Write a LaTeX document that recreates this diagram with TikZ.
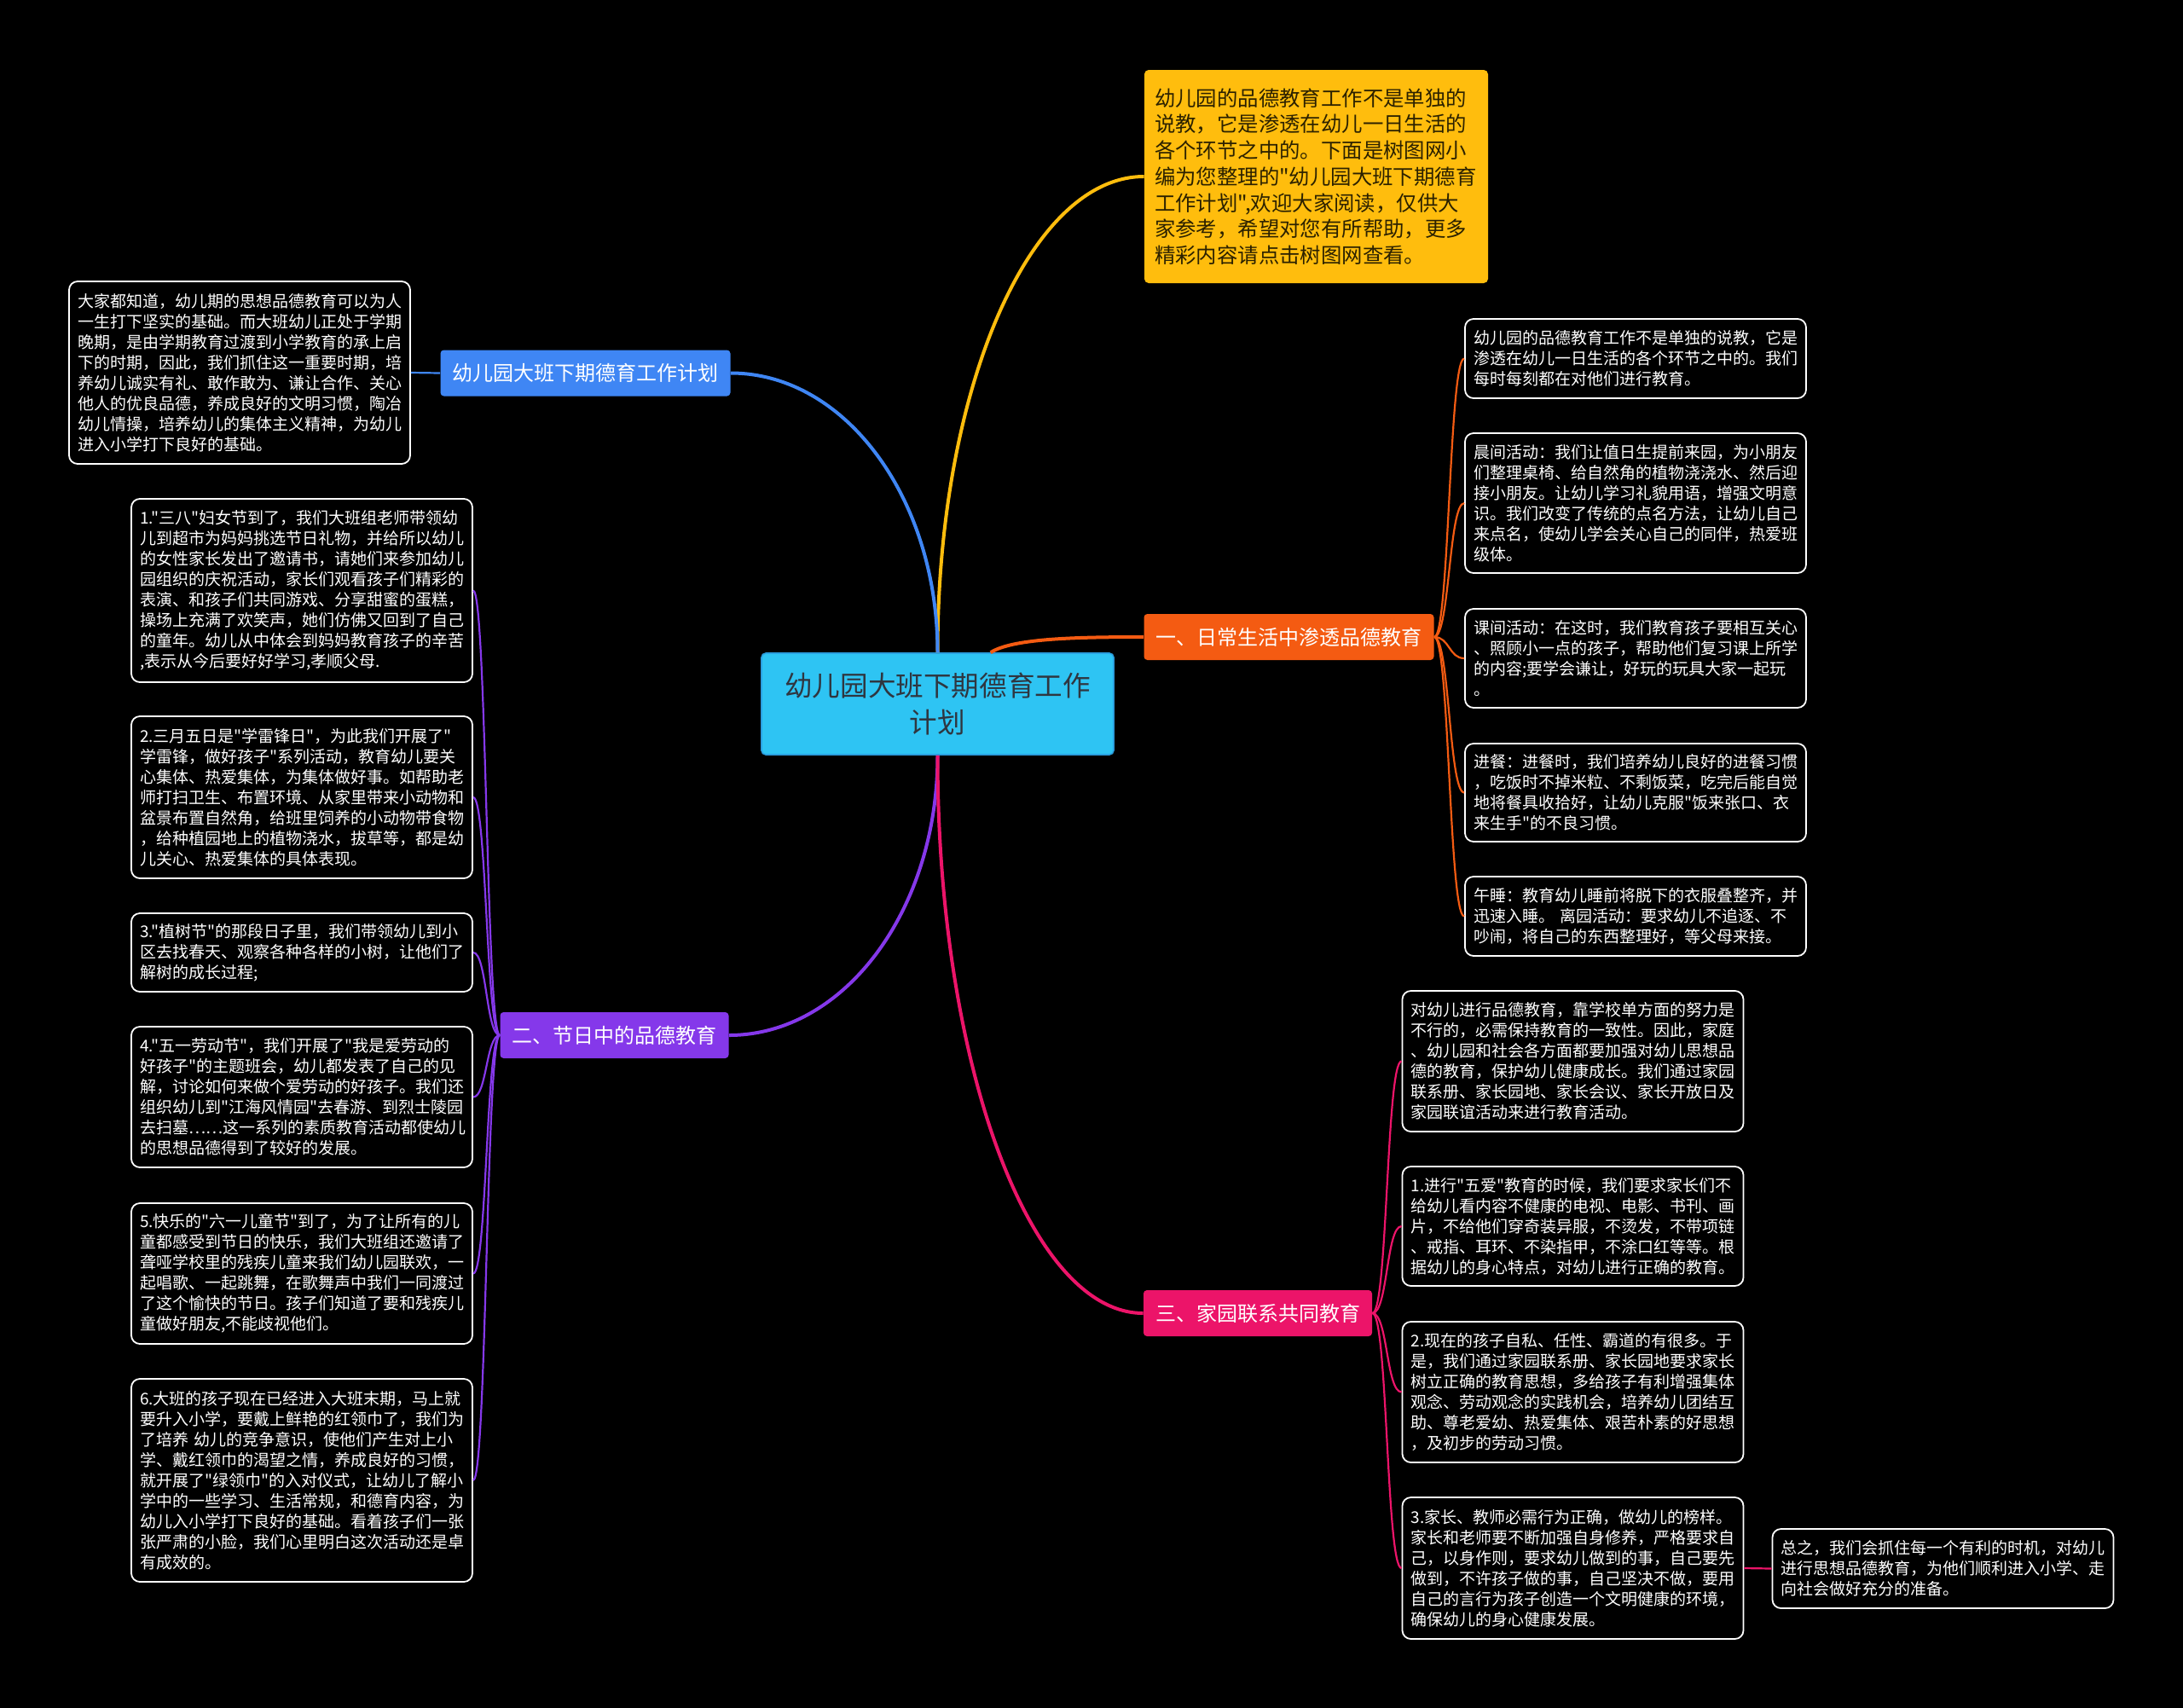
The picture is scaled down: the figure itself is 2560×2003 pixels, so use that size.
\documentclass[tikz,border=0pt]{standalone}
\usepackage{fontspec}
\setmainfont{Noto Sans CJK SC}[Ligatures=TeXOff]
\usetikzlibrary{calc}
\definecolor{cyanC}{HTML}{2EC4F3}
\definecolor{cyanB}{HTML}{2A9FE0}
\definecolor{yelC}{HTML}{FFBD0D}
\definecolor{bluC}{HTML}{3F86F4}
\definecolor{oraC}{HTML}{F45B12}
\definecolor{purC}{HTML}{8538EA}
\definecolor{pnkC}{HTML}{EC1469}
\definecolor{darkT}{HTML}{2F3640}
\definecolor{yelT}{HTML}{2B2100}
\begin{document}
\begin{tikzpicture}[x=0.5pt,y=-0.5pt,
  centerbox/.style={fill=cyanC, draw=cyanB, line width=0.8pt, rounded corners=2.5pt,
    minimum width=206.5pt, minimum height=59.5pt, align=center, inner sep=0pt,
    text=darkT, font=\fontsize{16.3}{21.2}\selectfont},
  lab/.style={rounded corners=2pt, text=white, font=\fontsize{12}{14}\selectfont,
    minimum height=27pt, inner xsep=7pt, inner ysep=0pt},
  yelbox/.style={fill=yelC, rounded corners=2.5pt, text=yelT, align=left,
    text width=189.5pt, inner xsep=6pt, inner ysep=0pt, minimum height=125pt,
    font=\fontsize{12.2}{15.35}\selectfont},
  tb/.style={draw=white, line width=0.9pt, fill=black, rounded corners=5pt,
    text=white, align=left, text width=190pt, inner xsep=5pt, inner ysep=0pt,
    font=\fontsize{9.5}{12}\selectfont},
  mainline/.style={line width=2pt},
  subline/.style={line width=1.1pt},
  rcurve/.style={out=0, in=180, out distance=9pt, in distance=9pt},
  lcurve/.style={out=180, in=0, out distance=8pt, in distance=8pt}
]
\fill[black] (0,0) rectangle (2560,2003);
\useasboundingbox (0,0) rectangle (2560,2003);

% central topic
\node[centerbox] (c) at (1099.5,825.5) {幼儿园大班下期德育工作\\计划};

% intro (yellow)
\node[yelbox] (y) at (1543.5,207) {幼儿园的品德教育工作不是单独的\\说教，它是渗透在幼儿一日生活的\\各个环节之中的。下面是树图网小\\编为您整理的"幼儿园大班下期德育\\工作计划",欢迎大家阅读，仅供大\\家参考，希望对您有所帮助，更多\\精彩内容请点击树图网查看。};

% branch labels
\node[lab, fill=bluC] (b) at (686.5,437.5) {幼儿园大班下期德育工作计划};
\node[lab, fill=oraC] (o) at (1511.5,747) {一、日常生活中渗透品德教育};
\node[lab, fill=purC] (p) at (720.5,1214) {二、节日中的品德教育};
\node[lab, fill=pnkC] (k) at (1475,1540) {三、家园联系共同教育};

% blue child
\node[tb, minimum height=107pt] (LT) at (281,437) {大家都知道，幼儿期的思想品德教育可以为人\\一生打下坚实的基础。而大班幼儿正处于学期\\晚期，是由学期教育过渡到小学教育的承上启\\下的时期，因此，我们抓住这一重要时期，培\\养幼儿诚实有礼、敢作敢为、谦让合作、关心\\他人的优良品德，养成良好的文明习惯，陶冶\\幼儿情操，培养幼儿的集体主义精神，为幼儿\\进入小学打下良好的基础。};

% purple children
\node[tb, minimum height=107.5pt] (P1) at (354,692.5) {1."三八"妇女节到了，我们大班组老师带领幼\\儿到超市为妈妈挑选节日礼物，并给所以幼儿\\的女性家长发出了邀请书，请她们来参加幼儿\\园组织的庆祝活动，家长们观看孩子们精彩的\\表演、和孩子们共同游戏、分享甜蜜的蛋糕，\\操场上充满了欢笑声，她们仿佛又回到了自己\\的童年。幼儿从中体会到妈妈教育孩子的辛苦\\,表示从今后要好好学习,孝顺父母.};
\node[tb, minimum height=95pt] (P2) at (354,935) {2.三月五日是"学雷锋日"，为此我们开展了"\\学雷锋，做好孩子"系列活动，教育幼儿要关\\心集体、热爱集体，为集体做好事。如帮助老\\师打扫卫生、布置环境、从家里带来小动物和\\盆景布置自然角，给班里饲养的小动物带食物\\，给种植园地上的植物浇水，拔草等，都是幼\\儿关心、热爱集体的具体表现。};
\node[tb, minimum height=46pt] (P3) at (354,1117) {3."植树节"的那段日子里，我们带领幼儿到小\\区去找春天、观察各种各样的小树，让他们了\\解树的成长过程;};
\node[tb, minimum height=82.5pt] (P4) at (354,1286.5) {4."五一劳动节"，我们开展了"我是爱劳动的\\好孩子"的主题班会，幼儿都发表了自己的见\\解，讨论如何来做个爱劳动的好孩子。我们还\\组织幼儿到"江海风情园"去春游、到烈士陵园\\去扫墓……这一系列的素质教育活动都使幼儿\\的思想品德得到了较好的发展。};
\node[tb, minimum height=82.5pt] (P5) at (354,1493.5) {5.快乐的"六一儿童节"到了，为了让所有的儿\\童都感受到节日的快乐，我们大班组还邀请了\\聋哑学校里的残疾儿童来我们幼儿园联欢，一\\起唱歌、一起跳舞，在歌舞声中我们一同渡过\\了这个愉快的节日。孩子们知道了要和残疾儿\\童做好朋友,不能歧视他们。};
\node[tb, minimum height=119pt] (P6) at (354,1736) {6.大班的孩子现在已经进入大班末期，马上就\\要升入小学，要戴上鲜艳的红领巾了，我们为\\了培养 幼儿的竞争意识，使他们产生对上小\\学、戴红领巾的渴望之情，养成良好的习惯，\\就开展了"绿领巾"的入对仪式，让幼儿了解小\\学中的一些学习、生活常规，和德育内容，为\\幼儿入小学打下良好的基础。看着孩子们一张\\张严肃的小脸，我们心里明白这次活动还是卓\\有成效的。};

% orange children
\node[tb, minimum height=46.5pt] (O1) at (1918,420.5) {幼儿园的品德教育工作不是单独的说教，它是\\渗透在幼儿一日生活的各个环节之中的。我们\\每时每刻都在对他们进行教育。};
\node[tb, minimum height=82pt] (O2) at (1918,590) {晨间活动：我们让值日生提前来园，为小朋友\\们整理桌椅、给自然角的植物浇浇水、然后迎\\接小朋友。让幼儿学习礼貌用语，增强文明意\\识。我们改变了传统的点名方法，让幼儿自己\\来点名，使幼儿学会关心自己的同伴，热爱班\\级体。};
\node[tb, minimum height=58pt] (O3) at (1918,772) {课间活动：在这时，我们教育孩子要相互关心\\、照顾小一点的孩子，帮助他们复习课上所学\\的内容;要学会谦让，好玩的玩具大家一起玩\\。};
\node[tb, minimum height=57.5pt] (O4) at (1918,929.5) {进餐：进餐时，我们培养幼儿良好的进餐习惯\\，吃饭时不掉米粒、不剩饭菜，吃完后能自觉\\地将餐具收拾好，让幼儿克服"饭来张口、衣\\来生手"的不良习惯。};
\node[tb, minimum height=46.5pt] (O5) at (1918,1074.5) {午睡：教育幼儿睡前将脱下的衣服叠整齐，并\\迅速入睡。 离园活动：要求幼儿不追逐、不\\吵闹，将自己的东西整理好，等父母来接。};

% pink children
\node[tb, minimum height=82.5pt] (K1) at (1844.5,1244.5) {对幼儿进行品德教育，靠学校单方面的努力是\\不行的，必需保持教育的一致性。因此，家庭\\、幼儿园和社会各方面都要加强对幼儿思想品\\德的教育，保护幼儿健康成长。我们通过家园\\联系册、家长园地、家长会议、家长开放日及\\家园联谊活动来进行教育活动。};
\node[tb, minimum height=70pt] (K2) at (1844.5,1438) {1.进行"五爱"教育的时候，我们要求家长们不\\给幼儿看内容不健康的电视、电影、书刊、画\\片，不给他们穿奇装异服，不烫发，不带项链\\、戒指、耳环、不染指甲，不涂口红等等。根\\据幼儿的身心特点，对幼儿进行正确的教育。};
\node[tb, minimum height=82.5pt] (K3) at (1844.5,1632.5) {2.现在的孩子自私、任性、霸道的有很多。于\\是，我们通过家园联系册、家长园地要求家长\\树立正确的教育思想，多给孩子有利增强集体\\观念、劳动观念的实践机会，培养幼儿团结互\\助、尊老爱幼、热爱集体、艰苦朴素的好思想\\，及初步的劳动习惯。};
\node[tb, minimum height=83pt] (K4) at (1844.5,1839) {3.家长、教师必需行为正确，做幼儿的榜样。\\家长和老师要不断加强自身修养，严格要求自\\己，以身作则，要求幼儿做到的事，自己要先\\做到，不许孩子做的事，自己坚决不做，要用\\自己的言行为孩子创造一个文明健康的环境，\\确保幼儿的身心健康发展。};
\node[tb, minimum height=46.5pt] (F) at (2278.5,1839.5) {总之，我们会抓住每一个有利的时机，对幼儿\\进行思想品德教育，为他们顺利进入小学、走\\向社会做好充分的准备。};

% main connectors
\draw[mainline, yelC] (c.north) .. controls +(0,-309) and +(-134,0) .. (y.west);
\draw[mainline, bluC] (c.north) .. controls +(0,-181) and +(134,0) .. (b.east);
\draw[mainline, oraC] ($(c.north west)!0.65!(c.north east)$) .. controls +(25,-16) and +(-85,0) .. (o.west);
\draw[mainline, purC] (c.south) .. controls +(0,182) and +(135,0) .. (p.east);
\draw[mainline, pnkC] (c.south) .. controls +(0,362) and +(-133,0) .. (k.west);

% sub connectors
\draw[subline, bluC] (b.west) -- (LT.east);
\foreach \n in {O1,O2,O3,O4,O5} \draw[subline, oraC] (o.east) to[rcurve] (\n.west);
\foreach \n in {P1,P2,P3,P4,P5,P6} \draw[subline, purC] (p.west) to[lcurve] (\n.east);
\foreach \n in {K1,K2,K3,K4} \draw[subline, pnkC] (k.east) to[rcurve] (\n.west);
\draw[subline, pnkC] (K4.east) -- (F.west);
\end{tikzpicture}
\end{document}
